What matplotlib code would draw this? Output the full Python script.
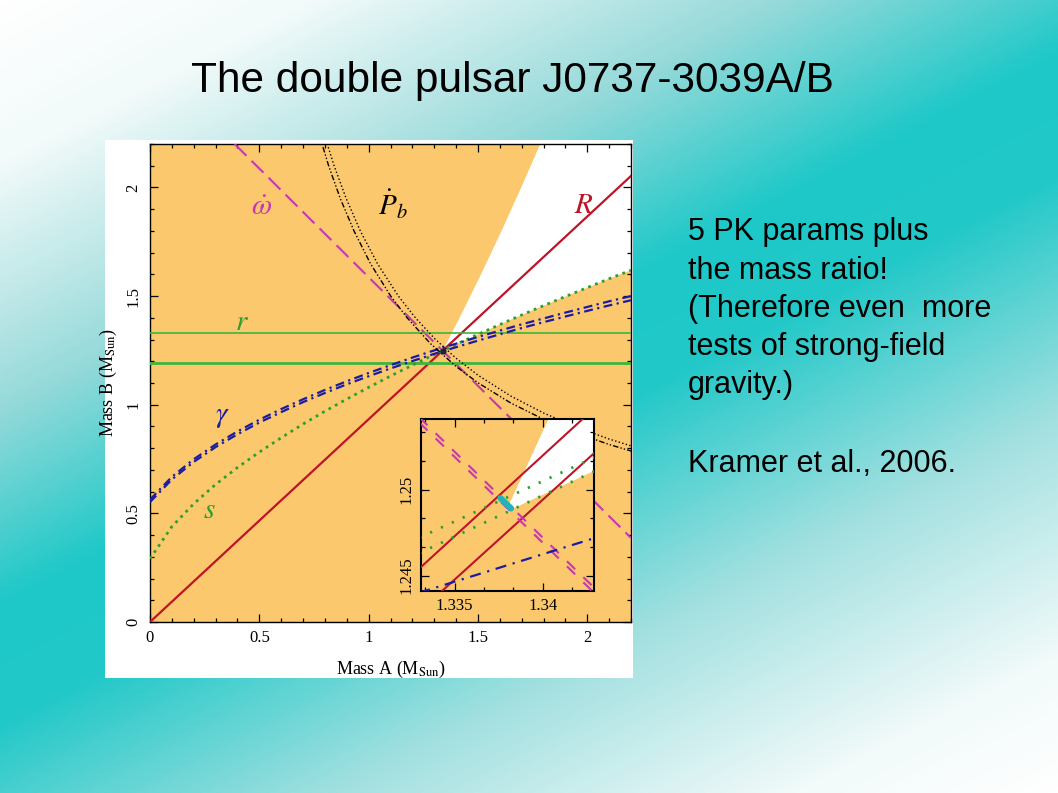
import numpy as np
import matplotlib
matplotlib.use('Agg')
import matplotlib.pyplot as plt
from matplotlib.colors import LinearSegmentedColormap
from matplotlib.patches import Rectangle
from matplotlib.ticker import MultipleLocator, AutoMinorLocator

plt.rcParams['mathtext.fontset'] = 'stix'

# ---- values ----
grid_mA = [0, 0.1, 0.2, 0.3, 0.4, 0.5, 0.6, 0.7, 0.8, 0.9, 1.0, 1.1,
           1.2, 1.3, 1.4, 1.5, 1.6, 1.7, 1.8, 1.9, 2.0, 2.1, 2.2]
s_mB = [0.291, 0.439, 0.544, 0.633, 0.711, 0.782, 0.848, 0.911, 0.970, 1.026, 1.080, 1.132,
        1.182, 1.231, 1.278, 1.324, 1.369, 1.413, 1.456, 1.498, 1.539, 1.580, 1.619]
gamma_lo_mB = [0.552, 0.656, 0.737, 0.805, 0.864, 0.918, 0.966, 1.012, 1.054, 1.094, 1.131, 1.167,
               1.201, 1.234, 1.265, 1.295, 1.324, 1.353, 1.380, 1.406, 1.432, 1.457, 1.481]
gamma_hi_mB = [0.563, 0.668, 0.749, 0.817, 0.877, 0.931, 0.980, 1.025, 1.068, 1.108, 1.146, 1.182,
               1.217, 1.250, 1.281, 1.312, 1.341, 1.370, 1.397, 1.424, 1.450, 1.476, 1.500]

# Pb-dot curves are symmetric in mA <-> mB: upper branch + diagonal point
pbdot_mB_branch = [2.25, 2.1, 1.95, 1.8, 1.65, 1.5, 1.4]
pbdot1_mA_branch = [0.772, 0.817, 0.870, 0.933, 1.008, 1.101, 1.176]
pbdot1_diag = 1.282
pbdot2_mA_branch = [0.795, 0.842, 0.897, 0.962, 1.040, 1.136, 1.214]
pbdot2_diag = 1.303

R_mA = [0, 2.2]
R_mB = [0, 2.053]
omdot_mA = [0.387, 2.2]
omdot_mB = [2.2, 0.387]
r_mB = [1.192, 1.329]

# allowed (white) wedge: left edge from mass function of B, lower edge = s curve
wedge_mB = [1.25, 1.4, 1.6, 1.8, 2.0, 2.2, 2.25]
wedge_mA = [1.339, 1.416, 1.514, 1.608, 1.698, 1.785, 1.806]

best_mA, best_mB = 1.338, 1.249

# ---- inset (zoom around the solution) ----
ins_mA = [1.333, 1.343]
ins_R1_mB = [1.2454, 1.2548]
ins_R2_mB = [1.2429, 1.2522]
ins_om1_mB = [1.2539, 1.2439]
ins_om2_mB = [1.2542, 1.2442]
ins_s1_mB = [1.2472, 1.2519]
ins_s2_mB = [1.2463, 1.2511]
ins_gam_mB = [1.2440, 1.2472]
ins_wedge_mA = [1.3379, 1.3405, 1.3440, 1.3440]
ins_wedge_mB = [1.2487, 1.2545, 1.2545, 1.2516]
ins_blob_mA = [1.3376, 1.3382]
ins_blob_mB = [1.2495, 1.2489]

ORANGE = '#FBC86E'
RED = '#BE1428'
MAGENTA = '#C837B0'
GREEN = '#2E9E2E'
LGREEN = '#3DB53D'
BLUE = '#1C1CA0'
CYAN = '#20B4B8'
SERIF = 'Liberation Serif'

W, H = 1058, 793


def fig_rect(x0, y0, x1, y1):
    # pixel box (top-left origin) -> figure fraction [left, bottom, width, height]
    return [x0 / W, 1 - y1 / H, (x1 - x0) / W, (y1 - y0) / H]


def style_ticks(ax, size):
    ax.tick_params(which='both', direction='in', top=True, right=True, width=0.9)
    ax.tick_params(which='major', length=6)
    ax.tick_params(which='minor', length=3)
    for lab in ax.get_xticklabels() + ax.get_yticklabels():
        lab.set_fontfamily(SERIF)
        lab.set_fontsize(size)
    for lab in ax.get_yticklabels():
        lab.set_rotation(90)
        lab.set_va('center')


def main():
    fig = plt.figure(figsize=(W / 100, H / 100), dpi=100)

    # slide background gradient + white card behind the plot
    bg = fig.add_axes([0, 0, 1, 1], zorder=-5)
    yy, xx = np.mgrid[0:H, 0:W]
    t = (550 * xx + 1058 * yy) / (550 * W + 1058 * H)
    cmap = LinearSegmentedColormap.from_list('slide', [
        (0.0, '#FFFFFF'), (0.12, '#F2FAFA'), (0.30, '#98DADA'), (0.45, '#1EC8C8'),
        (0.54, '#22C8C8'), (0.72, '#A2E0E0'), (0.90, '#F2FAFA'), (1.0, '#FFFFFF')])
    bg.imshow(t, cmap=cmap, aspect='auto', extent=[0, 1, 0, 1], origin='upper')
    card = fig_rect(105, 140, 633, 678)
    bg.add_patch(Rectangle(card[:2], card[2], card[3], facecolor='white',
                           edgecolor='none', zorder=2))
    bg.set_xlim(0, 1)
    bg.set_ylim(0, 1)
    bg.set_axis_off()

    fig.text(512 / W, 1 - 92 / H, 'The double pulsar J0737-3039A/B', ha='center',
             va='baseline', fontsize=30.5, family='Liberation Sans')
    side = ['5 PK params plus', 'the mass ratio!', '(Therefore even  more',
            'tests of strong-field', 'gravity.)', '', 'Kramer et al., 2006.']
    baselines = [240, 279, 317, 355, 393, 432, 472]
    for line, yb in zip(side, baselines):
        fig.text(688 / W, 1 - yb / H, line, ha='left', va='baseline', fontsize=22,
                 family='Liberation Sans')

    # ---- main mass-mass diagram ----
    ax = fig.add_axes(fig_rect(150, 144, 631, 622))
    ax.set_facecolor(ORANGE)
    ax.set_xlim(0, 2.2)
    ax.set_ylim(0, 2.2)

    n_low = grid_mA.index(1.4)
    wx = wedge_mA + [2.3, 2.3] + grid_mA[:n_low - 1:-1]
    wy = wedge_mB + [2.3, s_mB[-1]] + s_mB[:n_low - 1:-1]
    ax.fill(wx, wy, color='white', lw=0, zorder=1)

    ax.plot(R_mA, R_mB, color=RED, lw=1.6, zorder=3)
    ax.plot(omdot_mA, omdot_mB, color=MAGENTA, lw=1.5, dashes=(8, 3.5), zorder=3)
    for y, lw in zip(r_mB, [2.0, 1.2]):
        ax.axhline(y, color=LGREEN, lw=lw, zorder=3)
    ax.plot(grid_mA, s_mB, color=GREEN, lw=2.0, ls=':', zorder=3)
    ax.plot(grid_mA, gamma_lo_mB, color=BLUE, lw=1.6, dashes=(4, 2, 1, 2), zorder=3)
    ax.plot(grid_mA, gamma_hi_mB, color=BLUE, lw=1.6, dashes=(4, 2, 1, 2), zorder=3)

    pb1_x = pbdot1_mA_branch + [pbdot1_diag] + pbdot_mB_branch[::-1]
    pb1_y = pbdot_mB_branch + [pbdot1_diag] + pbdot1_mA_branch[::-1]
    pb2_x = pbdot2_mA_branch + [pbdot2_diag] + pbdot_mB_branch[::-1]
    pb2_y = pbdot_mB_branch + [pbdot2_diag] + pbdot2_mA_branch[::-1]
    ax.plot(pb1_x, pb1_y, color='black', lw=1.0, dashes=(4, 1.5, 1, 1.5, 1, 1.5), zorder=3)
    ax.plot(pb2_x, pb2_y, color='black', lw=1.0, ls=':', zorder=3)

    ax.plot([best_mA], [best_mB], 'o', color='#202040', ms=3.5, zorder=4)

    lab_kw = dict(fontsize=21, ha='center', va='center', zorder=5)
    ax.text(0.51, 1.91, r'$\dot{\omega}$', color=MAGENTA, **lab_kw)
    ax.text(1.11, 1.92, r'$\dot{P}_b$', color='black', **lab_kw)
    ax.text(1.985, 1.92, r'$R$', color=RED, **lab_kw)
    ax.text(0.42, 1.38, r'$r$', color=GREEN, **lab_kw)
    ax.text(0.333, 0.95, r'$\gamma$', color=BLUE, **lab_kw)
    ax.text(0.27, 0.515, r'$s$', color=GREEN, **lab_kw)

    ax.set_xticks([0, 0.5, 1, 1.5, 2], ['0', '0.5', '1', '1.5', '2'])
    ax.set_yticks([0, 0.5, 1, 1.5, 2], ['0', '0.5', '1', '1.5', '2'])
    ax.xaxis.set_minor_locator(MultipleLocator(0.1))
    ax.yaxis.set_minor_locator(MultipleLocator(0.1))
    ax.tick_params(axis='both', pad=6)
    style_ticks(ax, 12)
    for sp in ax.spines.values():
        sp.set_linewidth(1.0)
    ax.set_xlabel(r'Mass A (M$_{\mathrm{Sun}}$)', family=SERIF, fontsize=13, labelpad=9)
    ax.set_ylabel(r'Mass B (M$_{\mathrm{Sun}}$)', family=SERIF, fontsize=13, labelpad=5)

    # ---- inset ----
    ins = fig.add_axes(fig_rect(421, 419, 594, 591))
    ins.set_facecolor(ORANGE)
    ins.set_xlim(1.3331, 1.3429)
    ins.set_ylim(1.2441, 1.2541)
    ins.fill(ins_wedge_mA, ins_wedge_mB, color='white', lw=0, zorder=1)
    ins.plot(ins_mA, ins_R1_mB, color=RED, lw=1.5, zorder=3)
    ins.plot(ins_mA, ins_R2_mB, color=RED, lw=1.5, zorder=3)
    ins.plot(ins_mA, ins_om1_mB, color=MAGENTA, lw=1.5, dashes=(5.5, 5.5), zorder=3)
    ins.plot(ins_mA, ins_om2_mB, color=MAGENTA, lw=1.5, dashes=(5.5, 5.5), zorder=3)
    ins.plot(ins_mA, ins_s1_mB, color=GREEN, lw=2.0, dashes=(0.8, 3.5), zorder=3)
    ins.plot(ins_mA, ins_s2_mB, color=GREEN, lw=2.0, dashes=(0.8, 3.5), zorder=3)
    ins.plot(ins_mA, ins_gam_mB, color=BLUE, lw=1.6, dashes=(5, 3, 1, 3), zorder=3)
    ins.plot(ins_blob_mA, ins_blob_mB, color=CYAN, lw=4.5, solid_capstyle='round', zorder=4)

    ins.set_xticks([1.335, 1.34], ['1.335', '1.34'])
    ins.set_yticks([1.245, 1.25], ['1.245', '1.25'])
    ins.xaxis.set_minor_locator(AutoMinorLocator(3))
    ins.yaxis.set_minor_locator(AutoMinorLocator(3))
    ins.tick_params(axis='both', pad=5)
    style_ticks(ins, 12)
    for sp in ins.spines.values():
        sp.set_linewidth(1.5)

    fig.savefig('out.png', dpi=100)


if __name__ == '__main__':
    main()
